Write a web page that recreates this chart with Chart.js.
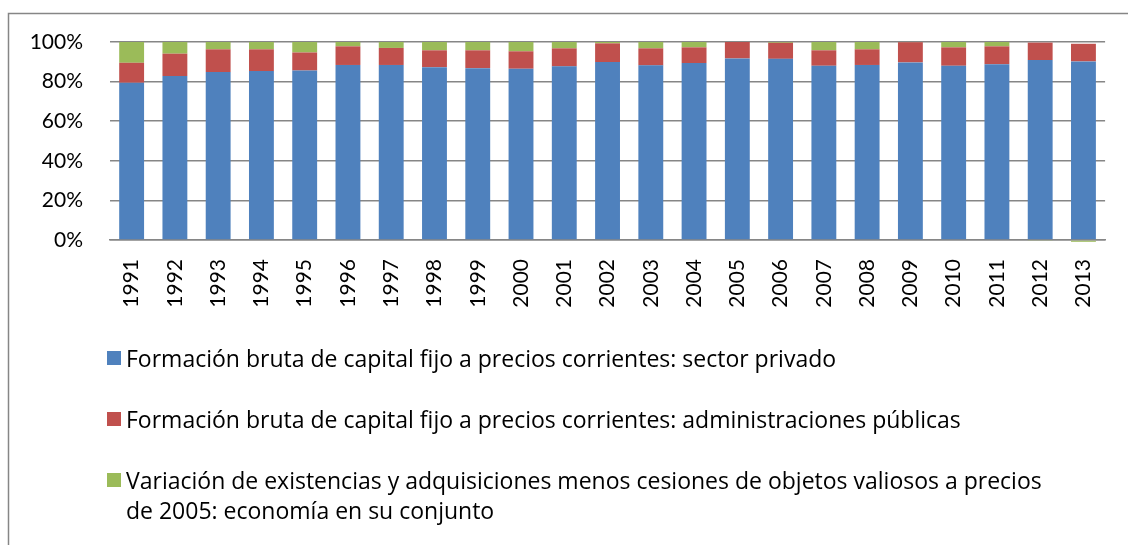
<!DOCTYPE html>
<html>
<head>
<meta charset="utf-8">
<script src="https://cdn.jsdelivr.net/npm/chart.js@4/dist/chart.umd.min.js"></script>
<style>
  html, body { margin: 0; padding: 0; background: #fff; }
  #wrap { position: relative; width: 1128px; height: 545px; overflow: hidden; }
  #c { position: absolute; left: 0; top: 0; }
  #legend { position: absolute; left: 107px; top: 0; font-family: "Open Sans", Lato, sans-serif; font-size: 23px; color: #000; }
  .item { position: absolute; left: 0; display: flex; align-items: flex-start; white-space: normal; }
  .box { width: 14px; height: 14px; flex: none; margin-right: 5px; }
  .txt { width: 928px; line-height: 30px; margin-top: -8px; }
</style>
</head>
<body>
<div id="wrap">
  <canvas id="c" width="1128" height="545"></canvas>
  <div id="legend"></div>
</div>
<script>
const years = ["1991","1992","1993","1994","1995","1996","1997","1998","1999","2000","2001","2002","2003","2004","2005","2006","2007","2008","2009","2010","2011","2012","2013"];
const privado = [79.4, 82.8, 84.8, 85.3, 85.6, 88.4, 88.4, 87.3, 86.8, 86.5, 87.7, 89.9, 88.2, 89.4, 91.7, 91.5, 88.0, 88.4, 89.7, 88.0, 88.8, 90.9, 90.2];
const publicas = [10.1, 11.3, 11.5, 11.0, 9.1, 9.4, 8.6, 8.5, 9.0, 8.8, 9.1, 9.4, 8.6, 7.9, 8.3, 8.1, 7.8, 7.9, 10.2, 9.3, 9.0, 8.8, 8.9];
const existencias = [10.5, 5.9, 3.7, 3.7, 5.3, 2.2, 3.0, 4.2, 4.2, 4.7, 3.2, 0.7, 3.2, 2.7, 0.0, 0.4, 4.2, 3.7, 0.1, 2.7, 2.2, -0.3, -0.9];
const yTicks = [0, 20, 40, 60, 80, 100];
const seriesNames = [
  "Formación bruta de capital fijo a precios corrientes: sector privado",
  "Formación bruta de capital fijo a precios corrientes: administraciones públicas",
  "Variación de existencias y adquisiciones menos cesiones de objetos valiosos a precios de 2005: economía en su conjunto"
];
const colors = ["#4F81BD", "#C0504D", "#9BBB59"];

const FONT = "Lato, 'Open Sans', sans-serif";

const borderPlugin = {
  id: 'outerBorder',
  beforeDraw(chart) {
    const ctx = chart.ctx;
    ctx.save();
    ctx.strokeStyle = '#868686';
    ctx.lineWidth = 1.5;
    ctx.beginPath();
    ctx.moveTo(8.5, 600);
    ctx.lineTo(8.5, 13.5);
    ctx.lineTo(1200, 13.5);
    ctx.stroke();
    ctx.restore();
  }
};

const chart = new Chart(document.getElementById('c'), {
  type: 'bar',
  data: {
    labels: years,
    datasets: [privado, publicas, existencias].map((d, i) => ({
      label: seriesNames[i],
      data: d,
      backgroundColor: colors[i],
      borderWidth: 0,
      categoryPercentage: 1.0,
      barPercentage: 0.575,
      clip: false
    }))
  },
  options: {
    responsive: false,
    animation: false,
    layout: { padding: { top: 42, right: 16, left: 0, bottom: 0 } },
    plugins: { legend: { display: false }, tooltip: { enabled: false } },
    scales: {
      x: {
        stacked: true,
        grid: { display: false, drawTicks: false },
        border: { display: true, color: '#868686', width: 1.5 },
        ticks: {
          color: '#000',
          font: { family: FONT, size: 21 },
          minRotation: 90, maxRotation: 90,
          padding: 19,
          autoSkip: false
        },
        afterFit(scale) { scale.height = 305; }
      },
      y: {
        stacked: true,
        min: 0, max: 100,
        afterBuildTicks(scale) { scale.ticks = yTicks.map(v => ({ value: v })); },
        grid: { color: '#868686', lineWidth: 1.5, drawTicks: false },
        border: { display: false },
        ticks: {
          color: '#000',
          font: { family: FONT, size: 21 },
          padding: 27,
          callback: v => v + '%'
        },
        afterFit(scale) { scale.width = 110; }
      }
    }
  },
  plugins: [borderPlugin]
});

// HTML legend built from the chart datasets
const legend = document.getElementById('legend');
const rowTops = [351, 412, 473];
chart.data.datasets.forEach((ds, i) => {
  const item = document.createElement('div');
  item.className = 'item';
  item.style.top = rowTops[i] + 'px';
  const box = document.createElement('div');
  box.className = 'box';
  box.style.background = ds.backgroundColor;
  const txt = document.createElement('div');
  txt.className = 'txt';
  txt.textContent = ds.label;
  item.appendChild(box);
  item.appendChild(txt);
  legend.appendChild(item);
});
</script>
</body>
</html>
